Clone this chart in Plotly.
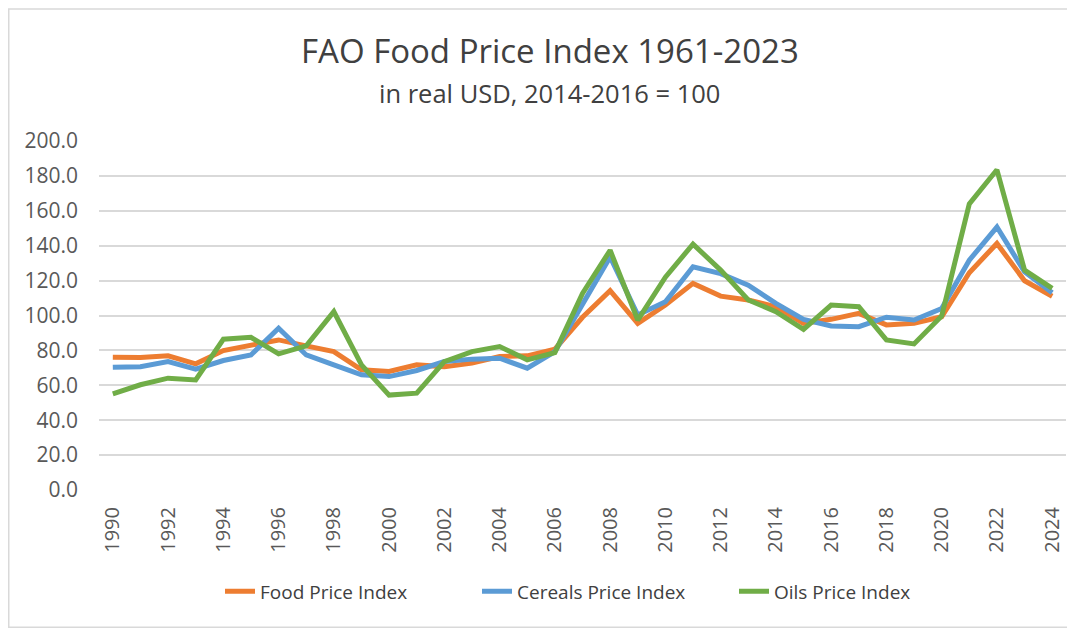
import plotly.graph_objects as go

years = list(range(1990, 2025))

food = [76.1, 75.9, 76.9, 72.3, 79.9, 83.1, 86.0, 82.6, 79.3, 68.9, 67.9, 71.7,
        70.7, 72.7, 76.5, 76.9, 80.7, 99.0, 114.2, 95.5, 106.0, 118.4, 111.1,
        108.9, 105.0, 95.5, 97.8, 101.2, 94.6, 95.5, 99.3, 124.5, 141.3, 119.9, 111.0]

cereals = [70.4, 70.7, 73.6, 69.2, 74.2, 77.4, 92.7, 77.4, 71.7, 66.0, 65.0, 68.5,
           73.6, 75.0, 75.5, 69.8, 79.3, 107.0, 133.6, 100.3, 107.9, 127.9, 124.0,
           117.4, 107.0, 97.8, 94.0, 93.6, 99.0, 97.4, 104.0, 131.7, 150.7, 125.0, 113.0]

oils = [55.1, 60.3, 64.1, 63.1, 86.4, 87.5, 78.0, 82.6, 102.2, 71.7, 54.4, 55.5,
        73.6, 79.3, 82.2, 74.6, 78.7, 112.7, 137.4, 97.4, 122.0, 140.9, 126.0,
        108.9, 102.2, 92.1, 106.0, 105.0, 86.0, 83.7, 99.7, 164.0, 183.5, 126.0, 115.5]

series_names = ["Food Price Index", "Cereals Price Index", "Oils Price Index"]
series_colors = ["#ED7D31", "#5B9BD5", "#70AD47"]

title_text = "FAO Food Price Index 1961-2023"
subtitle_text = "in real USD, 2014-2016 = 100"

FONT = "Open Sans, Liberation Sans, sans-serif"
OFF = 8  # page body margin
W, H = 1075 - OFF, 631 - OFF
L = 99 - OFF
T = 141 - OFF
plot_bottom = 490.5 - OFF
plot_right = 1066 - OFF
R = W - plot_right
B = H - plot_bottom
pw = plot_right - L
ph = plot_bottom - T

def px_x(p):
    return (p - OFF - L) / pw

def px_y(p):
    return (plot_bottom - (p - OFF)) / ph

fig = go.Figure()
for name, vals, col in zip(series_names, [food, cereals, oils], series_colors):
    fig.add_trace(go.Scatter(x=years, y=vals, mode="lines", name=name,
                             line=dict(color=col, width=5)))

fig.update_layout(
    width=W, height=H,
    margin=dict(l=L, r=R, t=T, b=B, autoexpand=False),
    paper_bgcolor="white", plot_bgcolor="white",
    font=dict(family=FONT, color="#595959"),
    showlegend=True,
    legend=dict(orientation="h", x=px_x(220), xanchor="left",
                y=px_y(592), yanchor="middle", font=dict(size=19, color="#404040"),
                entrywidth=212, entrywidthmode="pixels", tracegroupgap=0),
    xaxis=dict(range=[1989.5, 2024.5], tickmode="array",
               tickvals=years[::2], ticktext=[str(y) for y in years[::2]],
               tickangle=-90, tickfont=dict(size=20, color="#595959"),
               showgrid=False, zeroline=False, showline=False, ticks="",
               ticklabelstandoff=12),
    yaxis=dict(range=[0, 200], tickmode="array", tickvals=list(range(0, 201, 20)),
               ticktext=[f"{v:.1f}" for v in range(0, 201, 20)],
               tickfont=dict(size=21, color="#595959"),
               showgrid=True, gridcolor="#D9D9D9", gridwidth=1.5,
               zeroline=False, showline=False, ticks="", ticklabelstandoff=20),
    annotations=[
        dict(text=title_text, xref="paper", yref="paper", x=px_x(550), y=px_y(50),
             xanchor="center", yanchor="middle", showarrow=False,
             font=dict(size=33, color="#404040", family=FONT)),
        dict(text=subtitle_text, xref="paper", yref="paper", x=px_x(549), y=px_y(93),
             xanchor="center", yanchor="middle", showarrow=False,
             font=dict(size=25.5, color="#404040", family=FONT)),
    ],
    shapes=[dict(type="rect", xref="paper", yref="paper",
                 x0=px_x(8.75), x1=px_x(1068.5), y0=px_y(628), y1=px_y(8.75),
                 line=dict(color="#D9D9D9", width=1.5), layer="below")],
)

fig.write_html("out.html")
